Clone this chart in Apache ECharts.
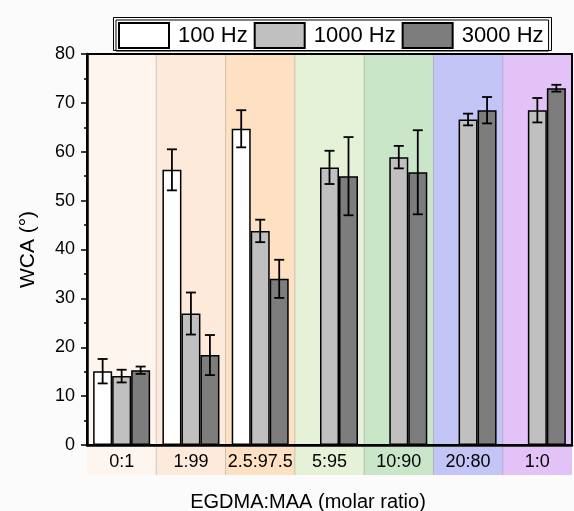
<!DOCTYPE html>
<html>
<head>
<meta charset="utf-8">
<script src="https://cdn.jsdelivr.net/npm/echarts@6/dist/echarts.min.js"></script>
<style>
  html, body { margin: 0; padding: 0; background: #fbfbfb; }
  #chart { width: 574px; height: 511px; }
</style>
</head>
<body>
<div id="chart"></div>
<script>
// Water contact angle by EGDMA:MAA molar ratio at three frequencies
const categories = ['0:1', '1:99', '2.5:97.5', '5:95', '10:90', '20:80', '1:0'];
const seriesNames = ['100 Hz', '1000 Hz', '3000 Hz'];
const wca100 = [15.1, 56.3, 64.7, null, null, null, null];
const err100 = [2.5, 4.2, 3.8, null, null, null, null];
const wca1000 = [14.1, 26.9, 43.8, 56.8, 58.9, 66.6, 68.5];
const err1000 = [1.3, 4.3, 2.3, 3.4, 2.3, 1.2, 2.5];
const wca3000 = [15.3, 18.4, 34.0, 55.0, 55.8, 68.5, 73.0];
const err3000 = [0.75, 4.1, 3.9, 8.0, 8.6, 2.7, 0.7];
const yTicks = [0, 10, 20, 30, 40, 50, 60, 70, 80];

// styling
const FONT = '"Liberation Sans", Arial, sans-serif';
const barColors = ['#ffffff', '#c0c0c0', '#7d7d7d'];
const bandColors = ['#fdf5ee', '#fdeadb', '#fde1c2', '#e6f2d7', '#c9e6c8', '#c3c5f7', '#e3c3f7'];
const BAR_W = 19;

const values = [wca100, wca1000, wca3000];
const errors = [err100, err1000, err3000];

const chart = echarts.init(document.getElementById('chart'), null, { renderer: 'canvas' });

// coloured band behind each category, repeated as a strip under the axis labels
function renderBand(params, api) {
  const i = api.value(0);
  const base = api.coord([i, 0]);
  const topY = api.coord([i, yTicks[yTicks.length - 1]])[1];
  const w = api.size([1, 0])[0];
  const x0 = base[0] - w / 2;
  const children = [
    { type: 'rect', shape: { x: x0, y: topY, width: w, height: base[1] - topY },
      style: { fill: bandColors[i] } },
    { type: 'rect', shape: { x: x0, y: base[1] + 2, width: w, height: 28 },
      style: { fill: bandColors[i] } }
  ];
  if (i > 0) {
    children.push({ type: 'line', shape: { x1: x0, y1: topY, x2: x0, y2: base[1] + 30 },
      style: { stroke: 'rgba(0,0,0,0.18)', lineWidth: 1 } });
  }
  return { type: 'group', children };
}

// error bar with caps, shifted to the slot of its bar inside the group
function makeErrorRenderer(slot) {
  return function (params, api) {
    const i = api.value(0);
    const v = api.value(1);
    const e = api.value(2);
    const hi = api.coord([i, v + e]);
    const lo = api.coord([i, v - e]);
    const x = hi[0] + (slot - 1) * BAR_W;
    const cap = 5;
    const st = { stroke: '#000', lineWidth: 1.8 };
    return {
      type: 'group',
      children: [
        { type: 'line', shape: { x1: x, y1: hi[1], x2: x, y2: lo[1] }, style: st },
        { type: 'line', shape: { x1: x - cap, y1: hi[1], x2: x + cap, y2: hi[1] }, style: st },
        { type: 'line', shape: { x1: x - cap, y1: lo[1], x2: x + cap, y2: lo[1] }, style: st }
      ]
    };
  };
}

const series = [{
  type: 'custom',
  name: 'bands',
  renderItem: renderBand,
  data: categories.map((c, i) => [i]),
  clip: false,
  silent: true,
  z: 1,
  encode: { x: 0 }
}];

seriesNames.forEach((name, s) => {
  series.push({
    type: 'bar',
    name: name,
    data: values[s],
    barWidth: BAR_W,
    barGap: '0%',
    z: 3,
    itemStyle: { color: barColors[s], borderColor: '#000', borderWidth: 1.5 }
  });
});

seriesNames.forEach((name, s) => {
  const pts = [];
  values[s].forEach((v, i) => {
    if (v !== null && errors[s][i] !== null) pts.push([i, v, errors[s][i]]);
  });
  series.push({
    type: 'custom',
    name: name + ' error',
    renderItem: makeErrorRenderer(s),
    data: pts,
    z: 4,
    silent: true,
    encode: { x: 0, y: 1 }
  });
});

chart.setOption({
  backgroundColor: '#fbfbfb',
  animation: false,
  textStyle: { fontFamily: FONT, color: '#000' },
  title: {
    text: 'EGDMA:MAA (molar ratio)',
    left: 303,
    top: 487,
    textAlign: 'center',
    textStyle: { fontFamily: FONT, fontSize: 20, fontWeight: 'normal', color: '#000' }
  },
  legend: {
    data: seriesNames,
    left: 116,
    top: 20,
    icon: 'rect',
    itemWidth: 50,
    itemHeight: 25,
    itemGap: 6,
    padding: [2, 5, 2, 2],
    backgroundColor: '#ffffff',
    borderColor: '#000',
    borderWidth: 1,
    textStyle: { fontFamily: FONT, fontSize: 22, color: '#000', padding: [0, 0, 0, 4] }
  },
  graphic: [{
    type: 'rect',
    z: 100,
    shape: { x: 113.5, y: 17.5, width: 438, height: 33 },
    style: { fill: null, stroke: '#000', lineWidth: 1 }
  }],
  grid: {
    left: 87, right: 2, top: 54, bottom: 66,
    show: true, borderColor: '#000', borderWidth: 2,
    backgroundColor: 'transparent', z: 10
  },
  xAxis: {
    type: 'category',
    data: categories,
    z: 10,
    axisLine: { lineStyle: { color: '#000', width: 2.5 } },
    axisTick: { alignWithLabel: true, interval: 0, length: 5, lineStyle: { color: '#000', width: 1.5 } },
    axisLabel: { interval: 0, fontFamily: FONT, fontSize: 18, color: '#000', margin: 8 }
  },
  yAxis: {
    type: 'value',
    min: yTicks[0],
    max: yTicks[yTicks.length - 1],
    interval: 10,
    z: 10,
    name: 'WCA (°)',
    nameLocation: 'middle',
    nameGap: 48,
    nameTextStyle: { fontFamily: FONT, fontSize: 21, color: '#000' },
    splitLine: { show: false },
    axisLine: { show: true, lineStyle: { color: '#000', width: 2.5 } },
    axisTick: { show: true, length: 6, lineStyle: { color: '#000', width: 1.5 } },
    minorTick: { show: true, splitNumber: 2, length: 3, lineStyle: { color: '#000', width: 1.5 } },
    axisLabel: { fontFamily: FONT, fontSize: 18, color: '#000', margin: 12 }
  },
  series: series
});
</script>
</body>
</html>
